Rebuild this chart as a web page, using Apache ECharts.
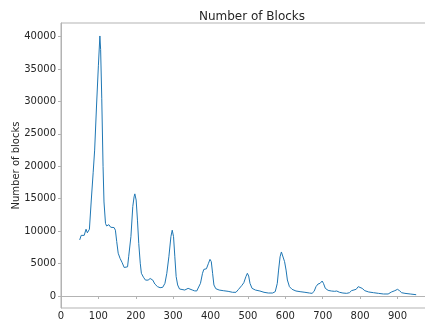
<!DOCTYPE html>
<html>
<head>
<meta charset="utf-8">
<script src="https://cdn.jsdelivr.net/npm/echarts@6/dist/echarts.min.js"></script>
<style>
  html, body { margin: 0; padding: 0; background: #fff; }
  #chart { width: 425px; height: 324px; }
</style>
</head>
<body>
<div id="chart"></div>
<script>
// Block size (x) and number of blocks (y)
const blockSize = [
  50, 54, 58, 62, 67, 70.5, 74, 76, 81, 86, 90, 95, 100, 104, 106, 109, 112.5, 115, 119, 122,
  128, 133, 138, 142, 145.5, 149, 153, 158, 163.5, 169, 174, 178, 181, 187, 192, 195.5, 197.5,
  201, 204.5, 208, 212, 215, 220.5, 226, 233, 238.5, 242, 245.5, 251, 258, 265, 272, 278, 283,
  288.5, 294, 297.5, 301, 304.5, 308, 312, 317, 322, 331, 340, 345, 351, 357, 363, 368, 373,
  378.5, 382, 389, 394.5, 398.5, 402, 405.5, 409, 414, 423, 434, 447, 459, 468, 475, 484, 489,
  494.5, 498.5, 502, 505.5, 511, 520, 532, 543, 554.5, 566, 573, 578.5, 582, 586, 589.5, 593,
  598, 602, 605.5, 611, 618, 628.5, 639.5, 652.5, 664.5, 671.5, 677, 682, 687.5, 693, 698.5,
  702, 707, 714.5, 723, 732, 737.5, 745, 754, 764, 771.5, 777, 782, 789.5, 795, 800, 805.5,
  812.5, 823, 836, 849, 862.5, 875, 884, 893, 900, 905.5, 911, 920, 934, 950
];
const blockCount = [
  8650, 9350, 9150, 9350, 10300, 9750, 9650, 10300, 14800, 19000, 22500, 29300, 35500, 40100, 38000, 30500, 20000, 14500, 11200, 10800,
  11000, 10600, 10700, 10550, 10150, 8400, 6600, 5800, 5150, 4400, 4100, 4500, 6050, 9150, 13800, 15300, 15750,
  14800, 11700, 8100, 5050, 3500, 2900, 2450, 2450, 2700, 2900, 2450, 1850, 1450, 1280, 1340, 1950, 3500,
  6050, 9150, 10150, 9150, 6050, 3000, 1700, 1080, 920, 920, 1180, 1150, 930, 800, 770, 920, 1950,
  3500, 4100, 4200, 5050, 5650, 5300, 3500, 1700, 1130, 920, 820, 720, 570, 570, 1030, 1650, 2050,
  2980, 3500, 3080, 1950, 1180, 920, 770, 570, 460, 460, 670, 1950, 4000, 6050, 6790, 6580,
  5300, 4000, 2470, 1440, 1030, 770, 670, 570, 460, 410, 720, 1440, 1850, 1950, 2310,
  1950, 1180, 870, 770, 720, 770, 570, 460, 410, 510, 820, 1080, 1030, 1440, 1700, 1180,
  820, 620, 510, 410, 310, 310, 620, 820, 1030, 820, 510, 410, 310, 200
];
const xTicks = [0, 100, 200, 300, 400, 500, 600, 700, 800, 900];
const yTicks = [0, 5000, 10000, 15000, 20000, 25000, 30000, 35000, 40000];

const spineColor = '#b3b3b3';
const textColor = '#262626';
const font = 'DejaVu Sans';

const chart = echarts.init(document.getElementById('chart'), null, { renderer: 'canvas' });
chart.setOption({
  animation: false,
  backgroundColor: '#fff',
  title: {
    text: 'Number of Blocks',
    left: 247,
    top: 6,
    textAlign: 'center',
    textStyle: { fontFamily: font, fontSize: 12, fontWeight: 'normal', color: textColor }
  },
  grid: {
    left: 61, right: -8, top: 23, bottom: 16,
    outerBoundsMode: 'none',
    show: true, borderColor: spineColor, borderWidth: 1, containLabel: false
  },
  xAxis: {
    type: 'value',
    min: 0, max: 995,
    axisLine: { show: true, lineStyle: { color: spineColor, width: 1 } },
    axisTick: { show: true, length: 3, lineStyle: { color: spineColor }, customValues: xTicks },
    axisLabel: { margin: 3, fontFamily: font, fontSize: 10, color: textColor, customValues: xTicks,
                 formatter: v => String(v) },
    splitLine: { show: false }
  },
  yAxis: {
    type: 'value',
    min: -1850, max: 42100,
    name: 'Number of blocks',
    nameLocation: 'middle',
    nameGap: 40,
    nameMoveOverlap: false,
    nameTextStyle: { fontFamily: font, fontSize: 10, color: textColor },
    axisLine: { show: true, lineStyle: { color: spineColor, width: 1 } },
    axisTick: { show: true, length: 3, lineStyle: { color: spineColor }, customValues: yTicks },
    axisLabel: { margin: 5, fontFamily: font, fontSize: 10, color: textColor, customValues: yTicks,
                 formatter: v => String(v) },
    splitLine: { show: false }
  },
  series: [{
    type: 'line',
    data: blockSize.map((x, i) => [x, blockCount[i]]),
    showSymbol: false,
    smooth: false,
    lineStyle: { color: '#1f77b4', width: 1 },
    itemStyle: { color: '#1f77b4' }
  }]
});
</script>
</body>
</html>
